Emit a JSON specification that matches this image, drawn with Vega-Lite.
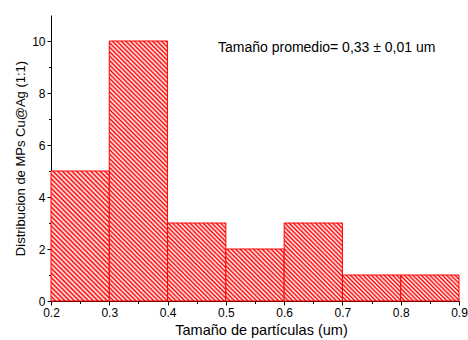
{
"$schema":"https://vega.github.io/schema/vega-lite/v6.json",
"width":408,"height":286,
"autosize":"none",
"padding":{"left":51,"top":15,"right":9,"bottom":39},
"background":"white",
"config":{"view":{"stroke":null},"axis":{"grid":false,"labelFlush":false,"labelOverlap":false,"domainColor":"#000","tickColor":"#000","labelColor":"#000","titleColor":"#000","labelFont":"Liberation Sans","titleFont":"Liberation Sans","labelFontSize":12,"titleFontSize":14,"titleFontWeight":"normal","domainWidth":1,"tickWidth":1}},
"data":{"values":[
{"bin_start":0.2,"bin_end":0.3,"count":5},
{"bin_start":0.3,"bin_end":0.4,"count":10},
{"bin_start":0.4,"bin_end":0.5,"count":3},
{"bin_start":0.5,"bin_end":0.6,"count":2},
{"bin_start":0.6,"bin_end":0.7,"count":3},
{"bin_start":0.7,"bin_end":0.8,"count":1},
{"bin_start":0.8,"bin_end":0.9,"count":1}
]},
"layer":[
{"mark":{"type":"bar","stroke":"#ff0000","strokeWidth":1,"orient":"vertical"},
"encoding":{
"x":{"field":"bin_start","type":"quantitative","scale":{"domain":[0.2,0.9],"nice":false,"zero":false,"padding":0},"axis":{"orient":"bottom","values":[0.2,0.3,0.4,0.5,0.6,0.7,0.8,0.9],"format":".1f","tickSize":4,"labelPadding":2,"title":"Tamaño de partículas (um)","titlePadding":5,"titleFontSize":14.5,"titleX":210}},
"x2":{"field":"bin_end"},
"y":{"field":"count","type":"quantitative","scale":{"domain":[0,11],"nice":false,"zero":true},"axis":{"orient":"left","values":[0,2,4,6,8,10],"tickSize":4,"labelPadding":2,"title":"Distribucion de MPs Cu@Ag (1:1)","titleFontSize":13}},
"y2":{"datum":0},
"fill":{"condition":[
{"test":"datum.count===1","value":{"gradient":"linear","x1":0,"y1":1,"x2":1.206,"y2":0.462,"stops":[
{"offset":0,"color":"#f00"},{"offset":0.025,"color":"#fff"},{"offset":0.05,"color":"#f00"},{"offset":0.075,"color":"#fff"},{"offset":0.1,"color":"#f00"},{"offset":0.125,"color":"#fff"},{"offset":0.15,"color":"#f00"},{"offset":0.175,"color":"#fff"},{"offset":0.2,"color":"#f00"},{"offset":0.225,"color":"#fff"},{"offset":0.25,"color":"#f00"},{"offset":0.275,"color":"#fff"},{"offset":0.3,"color":"#f00"},{"offset":0.325,"color":"#fff"},{"offset":0.35,"color":"#f00"},{"offset":0.375,"color":"#fff"},{"offset":0.4,"color":"#f00"},{"offset":0.425,"color":"#fff"},{"offset":0.45,"color":"#f00"},{"offset":0.475,"color":"#fff"},{"offset":0.5,"color":"#f00"},{"offset":0.525,"color":"#fff"},{"offset":0.55,"color":"#f00"},{"offset":0.575,"color":"#fff"},{"offset":0.6,"color":"#f00"},{"offset":0.625,"color":"#fff"},{"offset":0.65,"color":"#f00"},{"offset":0.675,"color":"#fff"},{"offset":0.7,"color":"#f00"},{"offset":0.725,"color":"#fff"},{"offset":0.75,"color":"#f00"},{"offset":0.775,"color":"#fff"},{"offset":0.8,"color":"#f00"},{"offset":0.825,"color":"#fff"},{"offset":0.85,"color":"#f00"},{"offset":0.875,"color":"#fff"},{"offset":0.9,"color":"#f00"},{"offset":0.925,"color":"#fff"},{"offset":0.95,"color":"#f00"},{"offset":0.975,"color":"#fff"},{"offset":1,"color":"#f00"}]}},
{"test":"datum.count===2","value":{"gradient":"linear","x1":0,"y1":1,"x2":1.054,"y2":0.06,"stops":[
{"offset":0,"color":"#f00"},{"offset":0.02,"color":"#fff"},{"offset":0.04,"color":"#f00"},{"offset":0.06,"color":"#fff"},{"offset":0.08,"color":"#f00"},{"offset":0.1,"color":"#fff"},{"offset":0.12,"color":"#f00"},{"offset":0.14,"color":"#fff"},{"offset":0.16,"color":"#f00"},{"offset":0.18,"color":"#fff"},{"offset":0.2,"color":"#f00"},{"offset":0.22,"color":"#fff"},{"offset":0.24,"color":"#f00"},{"offset":0.26,"color":"#fff"},{"offset":0.28,"color":"#f00"},{"offset":0.3,"color":"#fff"},{"offset":0.32,"color":"#f00"},{"offset":0.34,"color":"#fff"},{"offset":0.36,"color":"#f00"},{"offset":0.38,"color":"#fff"},{"offset":0.4,"color":"#f00"},{"offset":0.42,"color":"#fff"},{"offset":0.44,"color":"#f00"},{"offset":0.46,"color":"#fff"},{"offset":0.48,"color":"#f00"},{"offset":0.5,"color":"#fff"},{"offset":0.52,"color":"#f00"},{"offset":0.54,"color":"#fff"},{"offset":0.56,"color":"#f00"},{"offset":0.58,"color":"#fff"},{"offset":0.6,"color":"#f00"},{"offset":0.62,"color":"#fff"},{"offset":0.64,"color":"#f00"},{"offset":0.66,"color":"#fff"},{"offset":0.68,"color":"#f00"},{"offset":0.7,"color":"#fff"},{"offset":0.72,"color":"#f00"},{"offset":0.74,"color":"#fff"},{"offset":0.76,"color":"#f00"},{"offset":0.78,"color":"#fff"},{"offset":0.8,"color":"#f00"},{"offset":0.82,"color":"#fff"},{"offset":0.84,"color":"#f00"},{"offset":0.86,"color":"#fff"},{"offset":0.88,"color":"#f00"},{"offset":0.9,"color":"#fff"},{"offset":0.92,"color":"#f00"},{"offset":0.94,"color":"#fff"},{"offset":0.96,"color":"#f00"},{"offset":0.98,"color":"#fff"},{"offset":1,"color":"#f00"}]}},
{"test":"datum.count===3","value":{"gradient":"linear","x1":0,"y1":1,"x2":0.838,"y2":-0.121,"stops":[
{"offset":0,"color":"#f00"},{"offset":0.016,"color":"#fff"},{"offset":0.032,"color":"#f00"},{"offset":0.048,"color":"#fff"},{"offset":0.064,"color":"#f00"},{"offset":0.08,"color":"#fff"},{"offset":0.096,"color":"#f00"},{"offset":0.112,"color":"#fff"},{"offset":0.128,"color":"#f00"},{"offset":0.144,"color":"#fff"},{"offset":0.16,"color":"#f00"},{"offset":0.176,"color":"#fff"},{"offset":0.192,"color":"#f00"},{"offset":0.208,"color":"#fff"},{"offset":0.224,"color":"#f00"},{"offset":0.24,"color":"#fff"},{"offset":0.256,"color":"#f00"},{"offset":0.272,"color":"#fff"},{"offset":0.288,"color":"#f00"},{"offset":0.304,"color":"#fff"},{"offset":0.32,"color":"#f00"},{"offset":0.336,"color":"#fff"},{"offset":0.352,"color":"#f00"},{"offset":0.368,"color":"#fff"},{"offset":0.384,"color":"#f00"},{"offset":0.4,"color":"#fff"},{"offset":0.416,"color":"#f00"},{"offset":0.432,"color":"#fff"},{"offset":0.448,"color":"#f00"},{"offset":0.464,"color":"#fff"},{"offset":0.48,"color":"#f00"},{"offset":0.496,"color":"#fff"},{"offset":0.512,"color":"#f00"},{"offset":0.528,"color":"#fff"},{"offset":0.544,"color":"#f00"},{"offset":0.56,"color":"#fff"},{"offset":0.576,"color":"#f00"},{"offset":0.592,"color":"#fff"},{"offset":0.608,"color":"#f00"},{"offset":0.624,"color":"#fff"},{"offset":0.64,"color":"#f00"},{"offset":0.656,"color":"#fff"},{"offset":0.672,"color":"#f00"},{"offset":0.688,"color":"#fff"},{"offset":0.704,"color":"#f00"},{"offset":0.72,"color":"#fff"},{"offset":0.736,"color":"#f00"},{"offset":0.752,"color":"#fff"},{"offset":0.768,"color":"#f00"},{"offset":0.784,"color":"#fff"},{"offset":0.8,"color":"#f00"},{"offset":0.816,"color":"#fff"},{"offset":0.832,"color":"#f00"},{"offset":0.848,"color":"#fff"},{"offset":0.864,"color":"#f00"},{"offset":0.88,"color":"#fff"},{"offset":0.896,"color":"#f00"},{"offset":0.912,"color":"#fff"},{"offset":0.928,"color":"#f00"},{"offset":0.944,"color":"#fff"},{"offset":0.96,"color":"#f00"},{"offset":0.976,"color":"#fff"},{"offset":0.992,"color":"#f00"}]}},
{"test":"datum.count===5","value":{"gradient":"linear","x1":0,"y1":1,"x2":0.541,"y2":-0.206,"stops":[
{"offset":0,"color":"#f00"},{"offset":0.0125,"color":"#fff"},{"offset":0.025,"color":"#f00"},{"offset":0.0375,"color":"#fff"},{"offset":0.05,"color":"#f00"},{"offset":0.0625,"color":"#fff"},{"offset":0.075,"color":"#f00"},{"offset":0.0875,"color":"#fff"},{"offset":0.1,"color":"#f00"},{"offset":0.1125,"color":"#fff"},{"offset":0.125,"color":"#f00"},{"offset":0.1375,"color":"#fff"},{"offset":0.15,"color":"#f00"},{"offset":0.1625,"color":"#fff"},{"offset":0.175,"color":"#f00"},{"offset":0.1875,"color":"#fff"},{"offset":0.2,"color":"#f00"},{"offset":0.2125,"color":"#fff"},{"offset":0.225,"color":"#f00"},{"offset":0.2375,"color":"#fff"},{"offset":0.25,"color":"#f00"},{"offset":0.2625,"color":"#fff"},{"offset":0.275,"color":"#f00"},{"offset":0.2875,"color":"#fff"},{"offset":0.3,"color":"#f00"},{"offset":0.3125,"color":"#fff"},{"offset":0.325,"color":"#f00"},{"offset":0.3375,"color":"#fff"},{"offset":0.35,"color":"#f00"},{"offset":0.3625,"color":"#fff"},{"offset":0.375,"color":"#f00"},{"offset":0.3875,"color":"#fff"},{"offset":0.4,"color":"#f00"},{"offset":0.4125,"color":"#fff"},{"offset":0.425,"color":"#f00"},{"offset":0.4375,"color":"#fff"},{"offset":0.45,"color":"#f00"},{"offset":0.4625,"color":"#fff"},{"offset":0.475,"color":"#f00"},{"offset":0.4875,"color":"#fff"},{"offset":0.5,"color":"#f00"},{"offset":0.5125,"color":"#fff"},{"offset":0.525,"color":"#f00"},{"offset":0.5375,"color":"#fff"},{"offset":0.55,"color":"#f00"},{"offset":0.5625,"color":"#fff"},{"offset":0.575,"color":"#f00"},{"offset":0.5875,"color":"#fff"},{"offset":0.6,"color":"#f00"},{"offset":0.6125,"color":"#fff"},{"offset":0.625,"color":"#f00"},{"offset":0.6375,"color":"#fff"},{"offset":0.65,"color":"#f00"},{"offset":0.6625,"color":"#fff"},{"offset":0.675,"color":"#f00"},{"offset":0.6875,"color":"#fff"},{"offset":0.7,"color":"#f00"},{"offset":0.7125,"color":"#fff"},{"offset":0.725,"color":"#f00"},{"offset":0.7375,"color":"#fff"},{"offset":0.75,"color":"#f00"},{"offset":0.7625,"color":"#fff"},{"offset":0.775,"color":"#f00"},{"offset":0.7875,"color":"#fff"},{"offset":0.8,"color":"#f00"},{"offset":0.8125,"color":"#fff"},{"offset":0.825,"color":"#f00"},{"offset":0.8375,"color":"#fff"},{"offset":0.85,"color":"#f00"},{"offset":0.8625,"color":"#fff"},{"offset":0.875,"color":"#f00"},{"offset":0.8875,"color":"#fff"},{"offset":0.9,"color":"#f00"},{"offset":0.9125,"color":"#fff"},{"offset":0.925,"color":"#f00"},{"offset":0.9375,"color":"#fff"},{"offset":0.95,"color":"#f00"},{"offset":0.9625,"color":"#fff"},{"offset":0.975,"color":"#f00"},{"offset":0.9875,"color":"#fff"},{"offset":1,"color":"#f00"}]}}
],
"value":{"gradient":"linear","x1":0,"y1":1,"x2":0.261,"y2":-0.166,"stops":[
{"offset":0,"color":"#f00"},{"offset":0.007,"color":"#fff"},{"offset":0.014,"color":"#f00"},{"offset":0.021,"color":"#fff"},{"offset":0.028,"color":"#f00"},{"offset":0.035,"color":"#fff"},{"offset":0.042,"color":"#f00"},{"offset":0.049,"color":"#fff"},{"offset":0.056,"color":"#f00"},{"offset":0.063,"color":"#fff"},{"offset":0.07,"color":"#f00"},{"offset":0.077,"color":"#fff"},{"offset":0.084,"color":"#f00"},{"offset":0.091,"color":"#fff"},{"offset":0.098,"color":"#f00"},{"offset":0.105,"color":"#fff"},{"offset":0.112,"color":"#f00"},{"offset":0.119,"color":"#fff"},{"offset":0.126,"color":"#f00"},{"offset":0.133,"color":"#fff"},{"offset":0.14,"color":"#f00"},{"offset":0.147,"color":"#fff"},{"offset":0.154,"color":"#f00"},{"offset":0.161,"color":"#fff"},{"offset":0.168,"color":"#f00"},{"offset":0.175,"color":"#fff"},{"offset":0.182,"color":"#f00"},{"offset":0.189,"color":"#fff"},{"offset":0.196,"color":"#f00"},{"offset":0.203,"color":"#fff"},{"offset":0.21,"color":"#f00"},{"offset":0.217,"color":"#fff"},{"offset":0.224,"color":"#f00"},{"offset":0.231,"color":"#fff"},{"offset":0.238,"color":"#f00"},{"offset":0.245,"color":"#fff"},{"offset":0.252,"color":"#f00"},{"offset":0.259,"color":"#fff"},{"offset":0.266,"color":"#f00"},{"offset":0.273,"color":"#fff"},{"offset":0.28,"color":"#f00"},{"offset":0.287,"color":"#fff"},{"offset":0.294,"color":"#f00"},{"offset":0.301,"color":"#fff"},{"offset":0.308,"color":"#f00"},{"offset":0.315,"color":"#fff"},{"offset":0.322,"color":"#f00"},{"offset":0.329,"color":"#fff"},{"offset":0.336,"color":"#f00"},{"offset":0.343,"color":"#fff"},{"offset":0.35,"color":"#f00"},{"offset":0.357,"color":"#fff"},{"offset":0.364,"color":"#f00"},{"offset":0.371,"color":"#fff"},{"offset":0.378,"color":"#f00"},{"offset":0.385,"color":"#fff"},{"offset":0.392,"color":"#f00"},{"offset":0.399,"color":"#fff"},{"offset":0.406,"color":"#f00"},{"offset":0.413,"color":"#fff"},{"offset":0.42,"color":"#f00"},{"offset":0.427,"color":"#fff"},{"offset":0.434,"color":"#f00"},{"offset":0.441,"color":"#fff"},{"offset":0.448,"color":"#f00"},{"offset":0.455,"color":"#fff"},{"offset":0.462,"color":"#f00"},{"offset":0.469,"color":"#fff"},{"offset":0.476,"color":"#f00"},{"offset":0.483,"color":"#fff"},{"offset":0.49,"color":"#f00"},{"offset":0.497,"color":"#fff"},{"offset":0.504,"color":"#f00"},{"offset":0.511,"color":"#fff"},{"offset":0.518,"color":"#f00"},{"offset":0.525,"color":"#fff"},{"offset":0.532,"color":"#f00"},{"offset":0.539,"color":"#fff"},{"offset":0.546,"color":"#f00"},{"offset":0.553,"color":"#fff"},{"offset":0.56,"color":"#f00"},{"offset":0.567,"color":"#fff"},{"offset":0.574,"color":"#f00"},{"offset":0.581,"color":"#fff"},{"offset":0.588,"color":"#f00"},{"offset":0.595,"color":"#fff"},{"offset":0.602,"color":"#f00"},{"offset":0.609,"color":"#fff"},{"offset":0.616,"color":"#f00"},{"offset":0.623,"color":"#fff"},{"offset":0.63,"color":"#f00"},{"offset":0.637,"color":"#fff"},{"offset":0.644,"color":"#f00"},{"offset":0.651,"color":"#fff"},{"offset":0.658,"color":"#f00"},{"offset":0.665,"color":"#fff"},{"offset":0.672,"color":"#f00"},{"offset":0.679,"color":"#fff"},{"offset":0.686,"color":"#f00"},{"offset":0.693,"color":"#fff"},{"offset":0.7,"color":"#f00"},{"offset":0.707,"color":"#fff"},{"offset":0.714,"color":"#f00"},{"offset":0.721,"color":"#fff"},{"offset":0.728,"color":"#f00"},{"offset":0.735,"color":"#fff"},{"offset":0.742,"color":"#f00"},{"offset":0.749,"color":"#fff"},{"offset":0.756,"color":"#f00"},{"offset":0.763,"color":"#fff"},{"offset":0.77,"color":"#f00"},{"offset":0.777,"color":"#fff"},{"offset":0.784,"color":"#f00"},{"offset":0.791,"color":"#fff"},{"offset":0.798,"color":"#f00"},{"offset":0.805,"color":"#fff"},{"offset":0.812,"color":"#f00"},{"offset":0.819,"color":"#fff"},{"offset":0.826,"color":"#f00"},{"offset":0.833,"color":"#fff"},{"offset":0.84,"color":"#f00"},{"offset":0.847,"color":"#fff"},{"offset":0.854,"color":"#f00"},{"offset":0.861,"color":"#fff"},{"offset":0.868,"color":"#f00"},{"offset":0.875,"color":"#fff"},{"offset":0.882,"color":"#f00"},{"offset":0.889,"color":"#fff"},{"offset":0.896,"color":"#f00"},{"offset":0.903,"color":"#fff"},{"offset":0.91,"color":"#f00"},{"offset":0.917,"color":"#fff"},{"offset":0.924,"color":"#f00"},{"offset":0.931,"color":"#fff"},{"offset":0.938,"color":"#f00"},{"offset":0.945,"color":"#fff"},{"offset":0.952,"color":"#f00"},{"offset":0.959,"color":"#fff"},{"offset":0.966,"color":"#f00"},{"offset":0.973,"color":"#fff"},{"offset":0.98,"color":"#f00"},{"offset":0.987,"color":"#fff"},{"offset":0.994,"color":"#f00"}]}}
}},
{"mark":{"type":"point","opacity":0},
"encoding":{
"x":{"field":"bin_start","type":"quantitative","scale":{"domain":[0.2,0.9],"nice":false,"zero":false,"padding":0},"axis":{"orient":"bottom","values":[0.25,0.35,0.45,0.55,0.65,0.75,0.85],"labels":false,"domain":false,"tickSize":2.5,"title":null}},
"y":{"field":"count","type":"quantitative","scale":{"domain":[0,11],"nice":false,"zero":true},"axis":{"orient":"left","values":[1,3,5,7,9],"labels":false,"domain":false,"tickSize":2.5,"title":null}}
}},
{"data":{"values":[{"label":"Tamaño promedio= 0,33 ± 0,01 um"}]},
"mark":{"type":"text","align":"left","baseline":"alphabetic","font":"Liberation Sans","fontSize":14,"color":"#000"},
"encoding":{
"x":{"datum":0.4865,"type":"quantitative","scale":{"domain":[0.2,0.9],"nice":false,"zero":false,"padding":0},"axis":null},
"y":{"datum":9.58,"type":"quantitative","scale":{"domain":[0,11],"nice":false,"zero":true},"axis":null},
"text":{"field":"label"}
}}
],
"resolve":{"axis":{"x":"independent","y":"independent"}}
}
